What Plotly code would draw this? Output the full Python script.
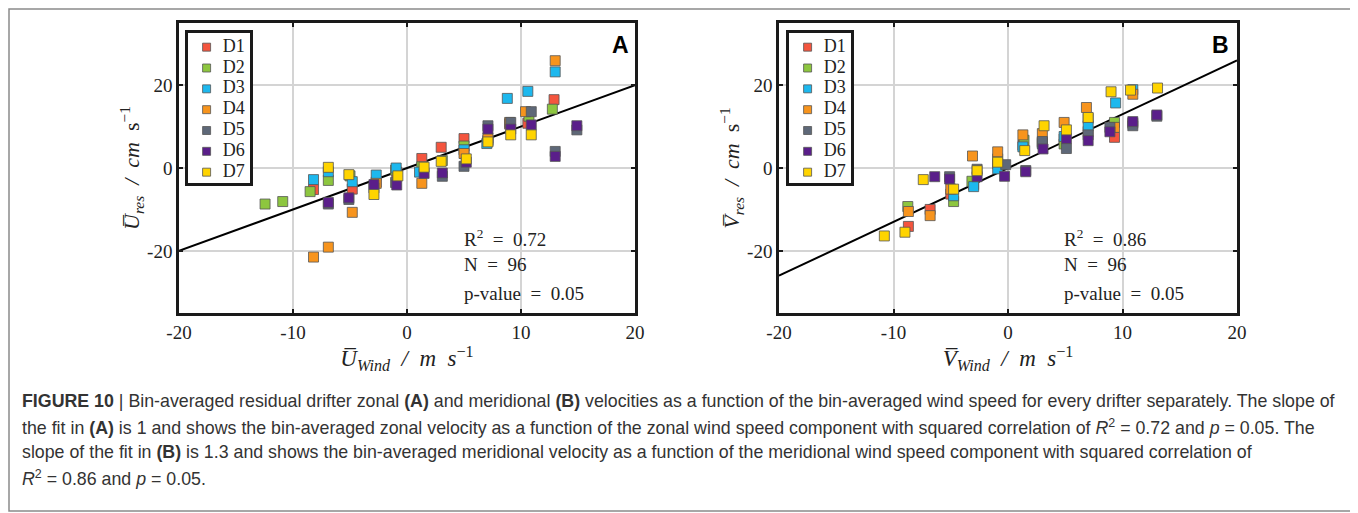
import plotly.graph_objects as go

W, H = 1358, 513
OFF = 8  # page body margin offset in the photographed window

DRIFTERS = ["D1", "D2", "D3", "D4", "D5", "D6", "D7"]
COLORS = ["#F4553E", "#8DC63F", "#1DB8EE", "#F7941D", "#5E6878", "#5A1E8A", "#FFD400"]

# Panel A: zonal wind (x) vs zonal residual velocity (y), one list per drifter
A_WIND = [
    [-8.2, -4.8, -2.7, -0.9, 1.3, 3.0, 5.0, 7.1, 9.0, 10.6, 12.9],
    [-12.45, -10.9, -8.5, -6.9, -5.0, -1.0, 1.3, 3.1, 5.0, 7.1, 10.7, 12.75],
    [-8.2, -6.9, -4.8, -2.7, -0.95, 1.1, 5.0, 7.0, 8.8, 10.6, 13.0],
    [-8.2, -6.9, -4.8, -2.7, 1.3, 5.0, 7.1, 9.0, 10.4, 13.0],
    [-6.9, -5.1, -2.9, -1.0, 3.1, 5.0, 7.1, 9.1, 10.9, 13.0, 14.9],
    [-6.9, -5.1, -2.9, -0.9, 1.5, 3.1, 5.2, 7.1, 9.1, 10.9, 13.0, 14.9],
    [-6.9, -5.1, -2.9, -0.8, 1.5, 3.0, 5.2, 7.1, 9.1, 10.9],
]
A_RES = [
    [-5.2, -5.1, -3.4, -1.0, 2.3, 5.0, 7.1, 6.5, 10.6, 10.8, 16.5],
    [-8.7, -8.1, -5.7, -3.0, -1.9, -0.5, 0.3, 1.8, 5.3, 6.8, 12.5, 14.2],
    [-2.8, -0.9, -3.3, -1.7, 0.0, -1.0, 4.4, 5.9, 16.8, 18.5, 23.2],
    [-21.5, -19.1, -10.7, -3.7, -3.7, 3.5, 7.2, 11.0, 13.6, 25.9],
    [-8.7, -7.6, -4.8, -3.5, -2.0, 0.4, 10.2, 11.0, 13.6, 4.0, 9.2],
    [-8.3, -7.2, -4.0, -4.1, -1.3, -1.2, 1.4, 9.4, 9.4, 10.4, 2.8, 10.2],
    [0.16, -1.6, -6.4, -1.9, 0.2, 1.6, 2.2, 6.3, 8.0, 8.0],
]

# Panel B: meridional wind (x) vs meridional residual velocity (y)
B_WIND = [
    [-8.7, -6.8, -5.0, -3.0, -0.9, 1.3, 3.0, 4.9, 7.0, 9.3, 10.9],
    [-8.75, -4.75, -3.15, -0.9, 1.4, 3.0, 4.9, 7.0, 9.3],
    [-4.75, -3.0, -0.9, 1.3, 3.0, 4.9, 7.0, 9.4, 10.9],
    [-8.7, -6.8, -5.0, -3.1, -0.9, 1.3, 3.0, 4.9, 6.85, 9.3, 10.9],
    [-5.1, -2.7, -0.2, 1.55, 3.0, 5.1, 7.0, 8.9, 10.9, 13.0],
    [-6.4, -5.1, -2.7, -0.3, 1.55, 3.06, 5.1, 7.0, 8.9, 10.9, 13.0],
    [-10.8, -9.0, -7.4, -4.75, -2.7, -0.9, 1.46, 3.15, 5.1, 7.0, 9.0, 10.7, 13.06],
]
B_RES = [
    [-14.1, -10.0, -6.3, -4.0, 1.0, 5.5, 6.0, 7.0, 8.8, 7.4, 10.8],
    [-9.3, -8.1, -3.2, 2.2, 6.7, 6.2, 5.8, 12.0, 11.0],
    [-6.7, -4.5, -0.2, 5.1, 5.8, 7.6, 10.2, 15.7, 18.9],
    [-10.5, -11.5, -5.1, 2.9, 3.9, 8.0, 8.3, 11.0, 14.6, 9.8, 17.8],
    [-2.1, -0.3, 0.8, -0.6, 6.4, 4.7, 8.0, 9.8, 10.2, 12.5],
    [-2.1, -2.65, -2.1, -2.0, -0.9, 4.6, 7.1, 6.6, 8.75, 11.2, 12.8],
    [-16.4, -15.5, -2.8, -5.1, -0.65, 1.4, 4.2, 10.2, 9.2, 12.2, 18.4, 18.8, 19.3],
]

FIT_SLOPE = [1.0, 1.3]
FIT_X = [-20, 20]
STATS = [("0.72", "96", "0.05"), ("0.86", "96", "0.05")]
PANEL_LABELS = ["A", "B"]
X_TICKS = [-20, -10, 0, 10, 20]
X_TICKTEXT = ["-20", "-10", "0", "10", "20"]
Y_TICKS = [-20, 0, 20]
Y_TICKTEXT = ["-20", "0", "20"]

SERIF = "Liberation Serif, DejaVu Serif, serif"
SANS = "Liberation Sans, Arial, sans-serif"


def px_x(p):
    return (p - OFF) / W


def px_y(p):
    return 1 - (p - OFF) / H


fig = go.Figure()

# legend boxes are small extra subplots (x3/y3 for A, x4/y4 for B)
LEG_YRANGE = [6.52, -0.68]
LEG_MARK_X = 0.30
LEG_TEXT_X = 0.56
leg_axes = [("x3", "y3"), ("x4", "y4")]

panels = [(A_WIND, A_RES, "x", "y"), (B_WIND, B_RES, "x2", "y2")]
for pi, (wx, ry, xa, ya) in enumerate(panels):
    fig.add_trace(go.Scatter(
        x=FIT_X, y=[FIT_SLOPE[pi] * v for v in FIT_X], mode="lines",
        line=dict(color="black", width=2), showlegend=False, xaxis=xa, yaxis=ya,
        hoverinfo="skip"))
    for di, name in enumerate(DRIFTERS):
        fig.add_trace(go.Scatter(
            x=wx[di], y=ry[di], mode="markers", name=name, showlegend=False,
            marker=dict(symbol="square", size=10, color=COLORS[di],
                        line=dict(color="#555555", width=0.8)),
            xaxis=xa, yaxis=ya))

for lx, ly in leg_axes:
    # opaque white legend background
    fig.add_trace(go.Scatter(
        x=[0, 1, 1, 0, 0],
        y=[LEG_YRANGE[0], LEG_YRANGE[0], LEG_YRANGE[1], LEG_YRANGE[1], LEG_YRANGE[0]],
        mode="lines", fill="toself", fillcolor="white", line=dict(width=0),
        showlegend=False, hoverinfo="skip", xaxis=lx, yaxis=ly))
    fig.add_trace(go.Scatter(
        x=[LEG_MARK_X] * len(DRIFTERS), y=list(range(len(DRIFTERS))),
        mode="markers",
        marker=dict(symbol="square", size=8, color=COLORS,
                    line=dict(color="#555555", width=0.8)),
        showlegend=False, hoverinfo="skip", xaxis=lx, yaxis=ly))
    fig.add_trace(go.Scatter(
        x=[LEG_TEXT_X] * len(DRIFTERS), y=list(range(len(DRIFTERS))),
        mode="text", text=DRIFTERS, textposition="middle right",
        textfont=dict(family=SERIF, size=18, color="#222"),
        showlegend=False, hoverinfo="skip", xaxis=lx, yaxis=ly))

dom_x = [[px_x(179), px_x(635)], [px_x(779), px_x(1237)]]
dom_y = [px_y(313), px_y(23)]
leg_dom_x = [[px_x(188), px_x(250)], [px_x(789), px_x(851)]]
leg_dom_y = [px_y(183), px_y(33)]

axis_common = dict(
    automargin=False,
    showgrid=True, gridcolor="#d4d4d4", gridwidth=2, zeroline=False,
    showline=True, linecolor="#1a1a1a", linewidth=2.5, mirror="ticks",
    ticks="inside", ticklen=4, tickwidth=2, tickcolor="#1a1a1a",
    tickfont=dict(family=SERIF, size=19, color="#222"),
)
leg_axis = dict(
    automargin=False, showgrid=False, zeroline=False, showticklabels=False,
    ticks="", showline=True, linecolor="#1a1a1a", linewidth=2.5, mirror=True,
    fixedrange=True,
)

x_titles = ["<i>U̅</i><sub><i>Wind</i></sub>  <i>/  m  s</i><sup>−1</sup>",
            "<i>V̅</i><sub><i>Wind</i></sub>  <i>/  m  s</i><sup>−1</sup>"]
y_titles = ["<i>U̅</i><sub><i>res</i></sub>  <i>/  cm  </i>s<sup>−1</sup>",
            "<i>V̅</i><sub><i>res</i></sub>  <i>/  cm  </i>s<sup>−1</sup>"]

for pi in range(2):
    sfx = "" if pi == 0 else "2"
    lsfx = str(3 + pi)
    fig.update_layout(**{
        "xaxis" + sfx: dict(axis_common, domain=dom_x[pi], range=[-20, 20],
                            tickvals=X_TICKS, ticktext=X_TICKTEXT,
                            anchor="y" + sfx,
                            title=dict(text=x_titles[pi], standoff=4,
                                       font=dict(family=SERIF, size=23, color="#222"))),
        "yaxis" + sfx: dict(axis_common, domain=dom_y, range=[-35, 35],
                            tickvals=Y_TICKS, ticktext=Y_TICKTEXT,
                            anchor="x" + sfx,
                            title=dict(text=y_titles[pi], standoff=2,
                                       font=dict(family=SERIF, size=22, color="#222"))),
        "xaxis" + lsfx: dict(leg_axis, domain=leg_dom_x[pi], range=[0, 1], anchor="y" + lsfx),
        "yaxis" + lsfx: dict(leg_axis, domain=leg_dom_y, range=LEG_YRANGE, anchor="x" + lsfx),
    })

annotations = []
for pi in range(2):
    x0 = 179 if pi == 0 else 779
    r2, n, pv = STATS[pi]
    annotations.append(dict(text="<b>" + PANEL_LABELS[pi] + "</b>", x=px_x(x0 + 441), y=px_y(45),
                            xref="paper", yref="paper", xanchor="center", yanchor="middle",
                            showarrow=False, font=dict(family=SANS, size=23, color="black")))
    for j, t in enumerate(["R<sup>2</sup>  =  " + r2, "N  =  " + n, "p-value  =  " + pv]):
        annotations.append(dict(text=t, x=px_x(x0 + 283), y=px_y([238, 264, 293][j]),
                                xref="paper", yref="paper", xanchor="left", yanchor="middle",
                                showarrow=False, font=dict(family=SERIF, size=19, color="#222")))

caption = [
    "<b>FIGURE 10</b> | Bin-averaged residual drifter zonal <b>(A)</b> and meridional <b>(B)</b> velocities as a function of the bin-averaged wind speed for every drifter separately. The slope of",
    "the fit in <b>(A)</b> is 1 and shows the bin-averaged zonal velocity as a function of the zonal wind speed component with squared correlation of <i>R</i><sup>2</sup> = 0.72 and <i>p</i> = 0.05. The",
    "slope of the fit in <b>(B)</b> is 1.3 and shows the bin-averaged meridional velocity as a function of the meridional wind speed component with squared correlation of",
    "<i>R</i><sup>2</sup> = 0.86 and <i>p</i> = 0.05.",
]
for i, line in enumerate(caption):
    annotations.append(dict(text=line, x=px_x(20), y=px_y([401, 427, 452, 478][i]),
                            xref="paper", yref="paper", xanchor="left", yanchor="middle",
                            showarrow=False, font=dict(family=SANS, size=17.8, color="#333")))

fig.update_layout(
    template="none", showlegend=False,
    width=W, height=H, margin=dict(l=0, r=0, t=0, b=0, autoexpand=False),
    paper_bgcolor="white", plot_bgcolor="white",
    annotations=annotations,
    shapes=[dict(type="rect", xref="paper", yref="paper",
                 x0=1 / W, x1=px_x(1352), y0=px_y(511), y1=1 - 1 / H,
                 line=dict(color="#8a8a8a", width=1.5))],
)

fig.write_html("out.html")
